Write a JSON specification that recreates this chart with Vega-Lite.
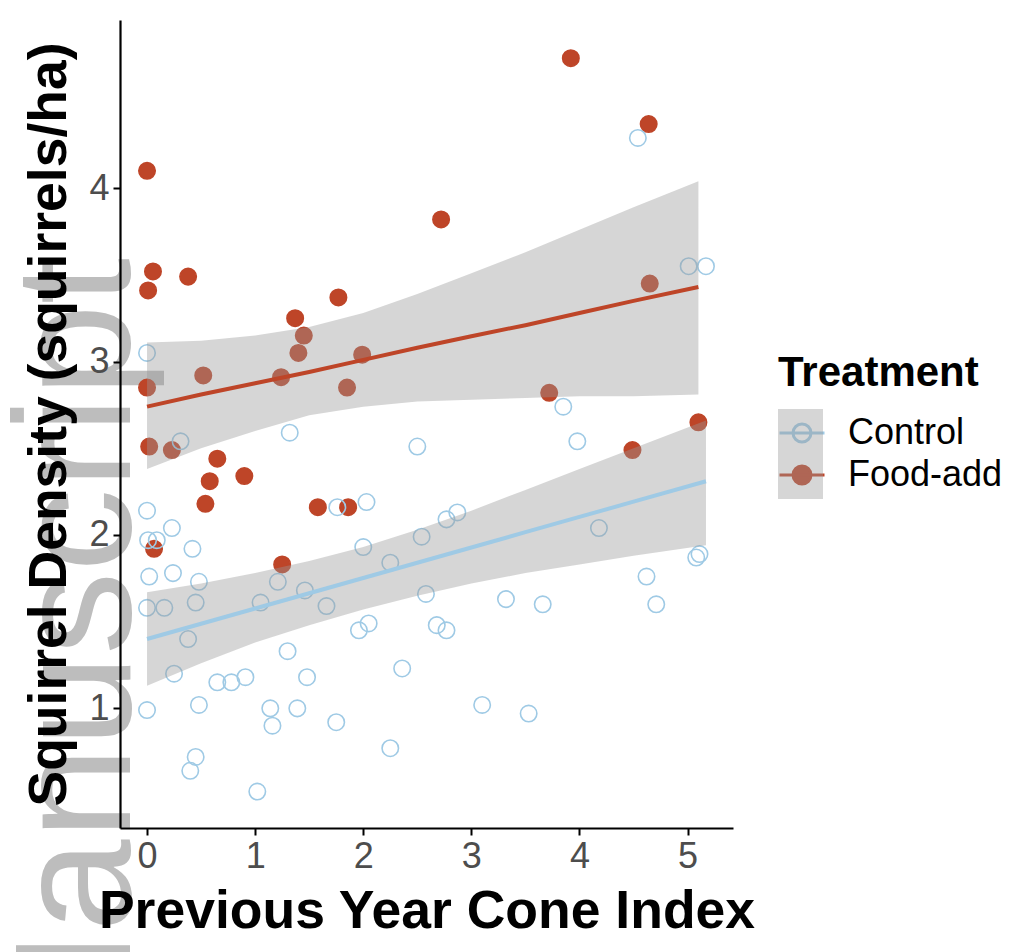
{
  "$schema": "https://vega.github.io/schema/vega-lite/v6.json",
  "width": 613,
  "height": 808,
  "autosize": {"type": "none"},
  "padding": {"left": 120, "top": 20, "right": 280, "bottom": 124},
  "background": "white",
  "config": {
    "view": {"stroke": null},
    "font": "Liberation Sans",
    "axis": {
      "grid": false,
      "domainColor": "black",
      "domainWidth": 2.2,
      "tickColor": "black",
      "tickWidth": 2,
      "tickSize": 7,
      "labelColor": "#4D4D4D",
      "labelFontSize": 36,
      "labelFont": "Liberation Sans",
      "titleFont": "Liberation Sans",
      "titleFontSize": 53.5,
      "titleFontWeight": "bold",
      "titleColor": "black",
      "format": "d"
    }
  },
  "datasets": {
    "watermark": [
      {"x": -0.1575, "y": 3.597, "label": "Manuscript"}
    ],
    "points": [
      {"x": 0.00, "y": 4.10, "Treatment": "Food-add"},
      {"x": 0.055, "y": 3.52, "Treatment": "Food-add"},
      {"x": 0.01, "y": 3.41, "Treatment": "Food-add"},
      {"x": 0.38, "y": 3.49, "Treatment": "Food-add"},
      {"x": 0.00, "y": 2.85, "Treatment": "Food-add"},
      {"x": 0.52, "y": 2.92, "Treatment": "Food-add"},
      {"x": 0.02, "y": 2.51, "Treatment": "Food-add"},
      {"x": 0.23, "y": 2.49, "Treatment": "Food-add"},
      {"x": 0.65, "y": 2.44, "Treatment": "Food-add"},
      {"x": 0.58, "y": 2.31, "Treatment": "Food-add"},
      {"x": 0.90, "y": 2.34, "Treatment": "Food-add"},
      {"x": 0.54, "y": 2.18, "Treatment": "Food-add"},
      {"x": 0.065, "y": 1.92, "Treatment": "Food-add"},
      {"x": 1.25, "y": 1.83, "Treatment": "Food-add"},
      {"x": 1.37, "y": 3.25, "Treatment": "Food-add"},
      {"x": 1.45, "y": 3.15, "Treatment": "Food-add"},
      {"x": 1.40, "y": 3.05, "Treatment": "Food-add"},
      {"x": 1.24, "y": 2.91, "Treatment": "Food-add"},
      {"x": 1.77, "y": 3.37, "Treatment": "Food-add"},
      {"x": 1.99, "y": 3.04, "Treatment": "Food-add"},
      {"x": 1.85, "y": 2.85, "Treatment": "Food-add"},
      {"x": 1.58, "y": 2.16, "Treatment": "Food-add"},
      {"x": 1.86, "y": 2.16, "Treatment": "Food-add"},
      {"x": 2.72, "y": 3.82, "Treatment": "Food-add"},
      {"x": 3.92, "y": 4.75, "Treatment": "Food-add"},
      {"x": 4.64, "y": 4.37, "Treatment": "Food-add"},
      {"x": 4.65, "y": 3.45, "Treatment": "Food-add"},
      {"x": 3.72, "y": 2.82, "Treatment": "Food-add"},
      {"x": 4.49, "y": 2.49, "Treatment": "Food-add"},
      {"x": 5.10, "y": 2.65, "Treatment": "Food-add"},
      {"x": 0.00, "y": 3.05, "Treatment": "Control"},
      {"x": 0.31, "y": 2.54, "Treatment": "Control"},
      {"x": 1.32, "y": 2.59, "Treatment": "Control"},
      {"x": 2.50, "y": 2.51, "Treatment": "Control"},
      {"x": 0.00, "y": 2.14, "Treatment": "Control"},
      {"x": 0.23, "y": 2.04, "Treatment": "Control"},
      {"x": 0.01, "y": 1.97, "Treatment": "Control"},
      {"x": 0.09, "y": 1.97, "Treatment": "Control"},
      {"x": 0.42, "y": 1.92, "Treatment": "Control"},
      {"x": 1.76, "y": 2.16, "Treatment": "Control"},
      {"x": 2.03, "y": 2.19, "Treatment": "Control"},
      {"x": 2.77, "y": 2.09, "Treatment": "Control"},
      {"x": 2.87, "y": 2.13, "Treatment": "Control"},
      {"x": 2.54, "y": 1.99, "Treatment": "Control"},
      {"x": 2.00, "y": 1.93, "Treatment": "Control"},
      {"x": 2.25, "y": 1.84, "Treatment": "Control"},
      {"x": 0.02, "y": 1.76, "Treatment": "Control"},
      {"x": 0.24, "y": 1.78, "Treatment": "Control"},
      {"x": 0.48, "y": 1.73, "Treatment": "Control"},
      {"x": 1.21, "y": 1.73, "Treatment": "Control"},
      {"x": 1.46, "y": 1.68, "Treatment": "Control"},
      {"x": 0.00, "y": 1.58, "Treatment": "Control"},
      {"x": 0.16, "y": 1.58, "Treatment": "Control"},
      {"x": 0.45, "y": 1.61, "Treatment": "Control"},
      {"x": 1.05, "y": 1.61, "Treatment": "Control"},
      {"x": 1.66, "y": 1.59, "Treatment": "Control"},
      {"x": 2.58, "y": 1.66, "Treatment": "Control"},
      {"x": 3.32, "y": 1.63, "Treatment": "Control"},
      {"x": 3.66, "y": 1.60, "Treatment": "Control"},
      {"x": 4.62, "y": 1.76, "Treatment": "Control"},
      {"x": 4.71, "y": 1.60, "Treatment": "Control"},
      {"x": 0.38, "y": 1.40, "Treatment": "Control"},
      {"x": 1.30, "y": 1.33, "Treatment": "Control"},
      {"x": 0.25, "y": 1.20, "Treatment": "Control"},
      {"x": 0.65, "y": 1.15, "Treatment": "Control"},
      {"x": 0.78, "y": 1.15, "Treatment": "Control"},
      {"x": 0.91, "y": 1.18, "Treatment": "Control"},
      {"x": 1.48, "y": 1.18, "Treatment": "Control"},
      {"x": 1.96, "y": 1.45, "Treatment": "Control"},
      {"x": 2.05, "y": 1.49, "Treatment": "Control"},
      {"x": 2.68, "y": 1.48, "Treatment": "Control"},
      {"x": 2.77, "y": 1.45, "Treatment": "Control"},
      {"x": 2.36, "y": 1.23, "Treatment": "Control"},
      {"x": 0.00, "y": 0.99, "Treatment": "Control"},
      {"x": 0.48, "y": 1.02, "Treatment": "Control"},
      {"x": 1.14, "y": 1.00, "Treatment": "Control"},
      {"x": 1.16, "y": 0.90, "Treatment": "Control"},
      {"x": 1.39, "y": 1.00, "Treatment": "Control"},
      {"x": 1.75, "y": 0.92, "Treatment": "Control"},
      {"x": 3.10, "y": 1.02, "Treatment": "Control"},
      {"x": 3.53, "y": 0.97, "Treatment": "Control"},
      {"x": 0.45, "y": 0.72, "Treatment": "Control"},
      {"x": 0.40, "y": 0.64, "Treatment": "Control"},
      {"x": 1.02, "y": 0.52, "Treatment": "Control"},
      {"x": 2.25, "y": 0.77, "Treatment": "Control"},
      {"x": 3.85, "y": 2.74, "Treatment": "Control"},
      {"x": 3.98, "y": 2.54, "Treatment": "Control"},
      {"x": 4.18, "y": 2.04, "Treatment": "Control"},
      {"x": 5.08, "y": 1.87, "Treatment": "Control"},
      {"x": 5.11, "y": 1.89, "Treatment": "Control"},
      {"x": 4.54, "y": 4.29, "Treatment": "Control"},
      {"x": 5.01, "y": 3.55, "Treatment": "Control"},
      {"x": 5.17, "y": 3.55, "Treatment": "Control"}
    ],
    "bands": [
      {"x": 0.0, "lo": 1.13, "fit": 1.40, "hi": 1.67, "Treatment": "Control", "Band": "Control"},
      {"x": 0.5, "lo": 1.26, "fit": 1.488, "hi": 1.72, "Treatment": "Control", "Band": "Control"},
      {"x": 1.0, "lo": 1.38, "fit": 1.576, "hi": 1.78, "Treatment": "Control", "Band": "Control"},
      {"x": 1.5, "lo": 1.48, "fit": 1.664, "hi": 1.85, "Treatment": "Control", "Band": "Control"},
      {"x": 2.0, "lo": 1.57, "fit": 1.752, "hi": 1.93, "Treatment": "Control", "Band": "Control"},
      {"x": 2.5, "lo": 1.65, "fit": 1.84, "hi": 2.03, "Treatment": "Control", "Band": "Control"},
      {"x": 3.0, "lo": 1.72, "fit": 1.928, "hi": 2.14, "Treatment": "Control", "Band": "Control"},
      {"x": 3.5, "lo": 1.78, "fit": 2.016, "hi": 2.26, "Treatment": "Control", "Band": "Control"},
      {"x": 4.0, "lo": 1.83, "fit": 2.104, "hi": 2.38, "Treatment": "Control", "Band": "Control"},
      {"x": 4.5, "lo": 1.88, "fit": 2.192, "hi": 2.50, "Treatment": "Control", "Band": "Control"},
      {"x": 5.17, "lo": 1.94, "fit": 2.31, "hi": 2.66, "Treatment": "Control", "Band": "Control"},
      {"x": 0.0, "lo": 2.38, "fit": 2.74, "hi": 3.11, "Treatment": "Food-add", "Band": "Food-add"},
      {"x": 0.5, "lo": 2.50, "fit": 2.81, "hi": 3.12, "Treatment": "Food-add", "Band": "Food-add"},
      {"x": 1.0, "lo": 2.60, "fit": 2.875, "hi": 3.15, "Treatment": "Food-add", "Band": "Food-add"},
      {"x": 1.5, "lo": 2.69, "fit": 2.94, "hi": 3.20, "Treatment": "Food-add", "Band": "Food-add"},
      {"x": 2.0, "lo": 2.74, "fit": 3.01, "hi": 3.28, "Treatment": "Food-add", "Band": "Food-add"},
      {"x": 2.5, "lo": 2.77, "fit": 3.08, "hi": 3.39, "Treatment": "Food-add", "Band": "Food-add"},
      {"x": 3.0, "lo": 2.78, "fit": 3.146, "hi": 3.51, "Treatment": "Food-add", "Band": "Food-add"},
      {"x": 3.5, "lo": 2.79, "fit": 3.21, "hi": 3.63, "Treatment": "Food-add", "Band": "Food-add"},
      {"x": 4.0, "lo": 2.80, "fit": 3.28, "hi": 3.76, "Treatment": "Food-add", "Band": "Food-add"},
      {"x": 4.5, "lo": 2.80, "fit": 3.35, "hi": 3.89, "Treatment": "Food-add", "Band": "Food-add"},
      {"x": 5.1, "lo": 2.81, "fit": 3.43, "hi": 4.04, "Treatment": "Food-add", "Band": "Food-add"}
    ]
  },
  "layer": [
    {
      "data": {"name": "watermark"},
      "mark": {"type": "text", "angle": 270, "align": "right", "baseline": "alphabetic", "fontSize": 166, "font": "Liberation Sans", "color": "#BDBDBD"},
      "encoding": {
        "x": {"field": "x", "type": "quantitative"},
        "y": {"field": "y", "type": "quantitative"},
        "text": {"field": "label"}
      }
    },
    {
      "data": {"name": "points"},
      "mark": {"type": "point", "shape": "circle", "size": 270, "strokeWidth": 1.6, "opacity": 1},
      "encoding": {
        "x": {
          "field": "x", "type": "quantitative",
          "scale": {"domain": [-0.25, 5.42], "nice": false, "zero": false},
          "axis": {"values": [0, 1, 2, 3, 4, 5], "title": "Previous Year Cone Index", "labelPadding": 4, "titlePadding": 11, "zindex": 2}
        },
        "y": {
          "field": "y", "type": "quantitative",
          "scale": {"domain": [0.31, 4.97], "nice": false, "zero": false},
          "axis": {"values": [1, 2, 3, 4], "title": "Squirrel Density (squirrels/ha)", "labelPadding": 4, "titlePadding": 12, "zindex": 2}
        },
        "fill": {
          "field": "Treatment", "type": "nominal",
          "scale": {"domain": ["Control", "Food-add"], "range": ["transparent", "#BE4528"]},
          "legend": {"orient": "none", "legendX": 658, "legendY": 333, "title": "Treatment", "titleFontSize": 42, "titleFontWeight": "bold", "titleColor": "black", "titleLimit": 600, "titlePadding": 14, "labelFontSize": 36, "labelColor": "black", "labelLimit": 400, "labelOffset": 22, "symbolType": "M-1,0L1,0M0.4,0A0.4,0.4,0,1,1,-0.4,0A0.4,0.4,0,1,1,0.4,0Z", "symbolSize": 2025, "symbolStrokeWidth": 3, "rowPadding": 0, "padding": 0}
        },
        "stroke": {
          "field": "Treatment", "type": "nominal",
          "scale": {"domain": ["Control", "Food-add"], "range": ["#9FCAE5", "#BE4528"]},
          "legend": {"orient": "none", "legendX": 658, "legendY": 333, "title": "Treatment", "titleFontSize": 42, "titleFontWeight": "bold", "titleColor": "black", "titleLimit": 600, "titlePadding": 14, "labelFontSize": 36, "labelColor": "black", "labelLimit": 400, "labelOffset": 22, "symbolType": "M-1,0L1,0M0.4,0A0.4,0.4,0,1,1,-0.4,0A0.4,0.4,0,1,1,0.4,0Z", "symbolSize": 2025, "symbolStrokeWidth": 3, "rowPadding": 0, "padding": 0}
        }
      }
    },
    {
      "data": {"name": "bands"},
      "mark": {"type": "area", "opacity": 0.4},
      "encoding": {
        "x": {"field": "x", "type": "quantitative"},
        "y": {"field": "lo", "type": "quantitative"},
        "y2": {"field": "hi"},
        "detail": {"field": "Band"},
        "color": {
          "field": "Band", "type": "nominal",
          "scale": {"range": ["#999999", "#999999"]},
          "legend": {"orient": "none", "legendX": 658, "legendY": 389, "title": null, "labelExpr": "''", "labelFontSize": 36, "labelOffset": 0, "symbolType": "square", "symbolSize": 2025, "symbolStrokeWidth": 0, "symbolOpacity": 0.4, "rowPadding": 0, "padding": 0}
        }
      }
    },
    {
      "data": {"name": "bands"},
      "mark": {"type": "line", "strokeWidth": 4},
      "encoding": {
        "x": {"field": "x", "type": "quantitative"},
        "y": {"field": "fit", "type": "quantitative"},
        "stroke": {"field": "Treatment", "type": "nominal"}
      }
    }
  ]
}
